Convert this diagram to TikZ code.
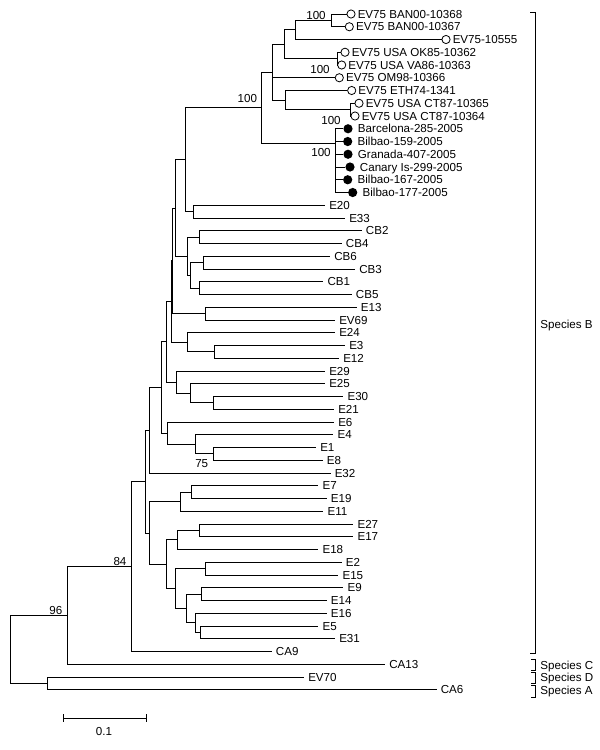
\documentclass[tikz,border=0pt]{standalone}
\usepackage{fontspec}
\setmainfont{Liberation Sans}
\usetikzlibrary{calc}
\newcommand\lf[4]{\coordinate (#1) at (#2,#3); \node[lab] (l#1) at ($(#1)+(3.8,0)$) {#4};}
\newcommand\nd[4]{\path let \p1=($(#3)!0.5!(#4)$) in (#2pt,\y1) coordinate (#1);
  \draw (#1) |- (#3); \draw (#1) |- (#4);}
\newcommand\oc[4]{\node[ocirc] (#1) at (#2,#3) {}; \coordinate (#1t) at (#1.west); \node[lab] (l#1) at ($(#1)+(6.3,0)$) {#4};}
\newcommand\fc[4]{\node[fcirc] (#1) at (#2,#3) {}; \coordinate (#1t) at (#1.west); \node[lab] (l#1) at ($(#1)+(9.5,0)$) {#4};}
\begin{document}
\begin{tikzpicture}[x=1pt,y=-1pt,line width=0.9pt,
  lab/.style={anchor=west,inner sep=0pt,text height=8.3pt,text depth=0pt,font=\fontsize{11.6}{12}\selectfont},
  bs/.style={inner sep=0pt,text height=8.3pt,text depth=0pt,font=\fontsize{11.6}{12}\selectfont},
  ocirc/.style={circle,draw,fill=white,line width=0.8pt,inner sep=0pt,minimum size=8.2pt},
  fcirc/.style={circle,fill=black,inner sep=0pt,minimum size=9.2pt}]
\useasboundingbox (0,0) rectangle (600,750);
% EV75 and Spanish leaves
\oc{c1}{351}{14}{EV75 BAN00-10368}
\oc{c2}{349.3}{26.75}{EV75 BAN00-10367}
\oc{c3}{446}{39.5}{EV75-10555}
\oc{c4}{345}{52.25}{EV75 USA OK85-10362}
\oc{c5}{341.7}{65}{EV75 USA VA86-10363}
\oc{c6}{339.3}{77.75}{EV75 OM98-10366}
\oc{c7}{351.7}{90.5}{EV75 ETH74-1341}
\oc{c8}{359}{103.25}{EV75 USA CT87-10365}
\oc{c9}{355}{116}{EV75 USA CT87-10364}
\fc{f10}{348}{128.75}{Barcelona-285-2005}
\fc{f11}{347.7}{141.5}{Bilbao-159-2005}
\fc{f12}{348}{154.25}{Granada-407-2005}
\fc{f13}{350}{167}{Canary Is-299-2005}
\fc{f14}{347.7}{179.75}{Bilbao-167-2005}
\fc{f15}{352.7}{192.5}{Bilbao-177-2005}
% other leaves
\lf{E20}{325}{205.25}{E20}
\lf{E33}{345}{218}{E33}
\lf{CB2}{361.7}{230.75}{CB2}
\lf{CB4}{341.7}{243.5}{CB4}
\lf{CB6}{330}{256.25}{CB6}
\lf{CB3}{355}{269}{CB3}
\lf{CB1}{323.3}{281.75}{CB1}
\lf{CB5}{351.7}{294.5}{CB5}
\lf{E13}{356.7}{307.25}{E13}
\lf{EV69}{335}{320}{EV69}
\lf{E24}{335}{332.75}{E24}
\lf{E3}{345}{345.5}{E3}
\lf{E12}{339}{358.25}{E12}
\lf{E29}{325}{371}{E29}
\lf{E25}{325}{383.75}{E25}
\lf{E30}{343.3}{396.5}{E30}
\lf{E21}{334}{409.25}{E21}
\lf{E6}{334}{422}{E6}
\lf{E4}{333.3}{434.75}{E4}
\lf{E1}{316}{447.5}{E1}
\lf{E8}{322.7}{460.25}{E8}
\lf{E32}{330.5}{473}{E32}
\lf{E7}{318.3}{485.75}{E7}
\lf{E19}{326.7}{498.5}{E19}
\lf{E11}{323.3}{511.25}{E11}
\lf{E27}{353.3}{524}{E27}
\lf{E17}{353.3}{536.75}{E17}
\lf{E18}{318.3}{549.5}{E18}
\lf{E2}{341.7}{562.25}{E2}
\lf{E15}{338.3}{575}{E15}
\lf{E9}{343.3}{587.75}{E9}
\lf{E14}{326.7}{600.5}{E14}
\lf{E16}{326.7}{613.25}{E16}
\lf{E5}{318.3}{626}{E5}
\lf{E31}{335}{638.75}{E31}
\lf{CA9}{271.7}{651.5}{CA9}
\lf{CA13}{385}{664.25}{CA13}
\lf{EV70}{304}{677}{EV70}
\lf{CA6}{436.5}{689.75}{CA6}
% internal nodes
\nd{nE20}{193.3}{E20}{E33}
\nd{nCB24}{199.3}{CB2}{CB4}
\nd{nCB63}{203.3}{CB6}{CB3}
\nd{nCB15}{199.3}{CB1}{CB5}
\nd{H}{190}{nCB63}{nCB15}
\nd{G}{187.3}{nCB24}{H}
\nd{nBAN}{331.7}{c1t}{c2t}
\nd{n10555}{295.7}{nBAN}{c3t}
\nd{nOK}{337}{c4t}{c5t}
\nd{n284}{284.3}{n10555}{nOK}
\nd{nCT}{350}{c8t}{c9t}
\nd{nZ}{285}{c7t}{nCT}
\path let \p1=($(n284)!0.5!(nZ)$) in (272.7pt,\y1) coordinate (W);
\draw (W) |- (n284); \draw (W) |- (c6t); \draw (W) |- (nZ);
\coordinate (nSp) at (335,143.5);
\foreach \k in {f10,f11,f12,f13,f14,f15} {\draw (nSp) |- (\k t);}
\nd{n100}{261.7}{W}{nSp}
\nd{E}{185}{n100}{nE20}
\nd{F}{175.5}{E}{G}
\nd{nE13}{205}{E13}{EV69}
\nd{I}{172.7}{F}{nE13}
\nd{nE312}{214}{E3}{E12}
\nd{nE24}{187.3}{E24}{nE312}
\nd{J}{171}{I}{nE24}
\nd{nE3021}{213.3}{E30}{E21}
\nd{L}{190.7}{E25}{nE3021}
\nd{M}{176}{E29}{L}
\nd{D}{166}{J}{M}
\nd{nE18}{213.3}{E1}{E8}
\nd{O}{195.7}{E4}{nE18}
\nd{N}{167}{E6}{O}
\nd{C}{161}{D}{N}
\nd{B}{149.3}{C}{E32}
\nd{nE719}{191}{E7}{E19}
\nd{Q}{180}{nE719}{E11}
\nd{nE2717}{199}{E27}{E17}
\nd{S}{177.7}{nE2717}{E18}
\nd{nE215}{205.3}{E2}{E15}
\nd{nE914}{201.7}{E9}{E14}
\nd{nE531}{200.7}{E5}{E31}
\nd{V}{195.7}{E16}{nE531}
\nd{U}{186.7}{nE914}{V}
\nd{T}{175.7}{nE215}{U}
\nd{R}{166.7}{S}{T}
\nd{P}{149.3}{Q}{R}
\nd{A}{145}{B}{P}
\nd{n84}{131}{A}{CA9}
\nd{n96}{67.7}{n84}{CA13}
\nd{nDA}{47}{EV70}{CA6}
\nd{root}{10.8}{n96}{nDA}
% bootstrap values
\node[bs] (b1) at (316,15) {100};
\node[bs] (b2) at (320,69) {100};
\node[bs] (b3) at (331,120) {100};
\node[bs] (b4) at (321,152) {100};
\node[bs] (b5) at (247.3,98.7) {100};
\node[bs] (b6) at (201.7,463) {75};
\node[bs] (b7) at (120,561) {84};
\node[bs] (b8) at (55.8,610) {96};
% species brackets
\draw (530,12) -- (535,12) -- (535,653) -- (530,653);
\node[lab] (spB) at (540,324) {Species B};
\draw (531,659) -- (535,659) -- (535,670) -- (531,670);
\node[lab] (spC) at (540,665) {Species C};
\draw (531,672) -- (535,672) -- (535,683) -- (531,683);
\node[lab] (spD) at (540,677.7) {Species D};
\draw (531,685) -- (535,685) -- (535,697) -- (531,697);
\node[lab] (spA) at (540,690) {Species A};
% scale bar
\coordinate (sb1) at (63.5,718);
\coordinate (sb2) at (146,718);
\draw (sb1) -- (sb2);
\draw ($(sb1)+(0,-4)$) -- ($(sb1)+(0,4)$);
\draw ($(sb2)+(0,-4)$) -- ($(sb2)+(0,4)$);
\node[bs] (sbl) at (104,731) {0.1};
\end{tikzpicture}
\end{document}
